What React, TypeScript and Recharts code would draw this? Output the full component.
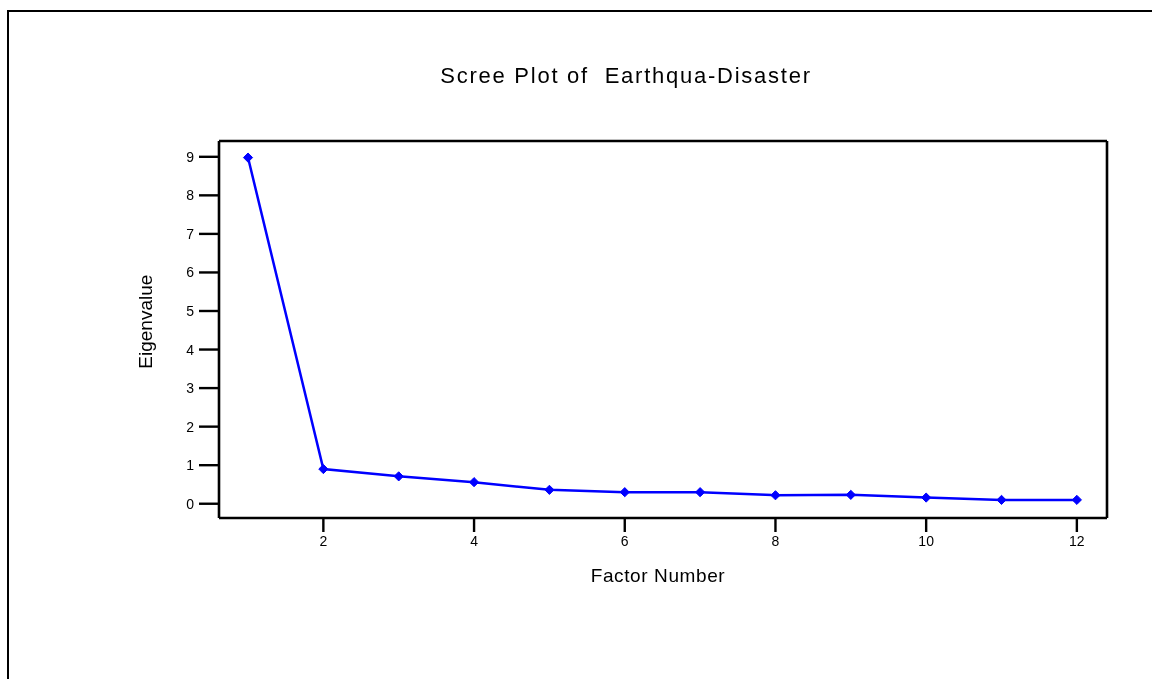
import React from "react";
import { LineChart, Line, XAxis, YAxis, ReferenceLine } from "recharts";

const factorNumbers = [1, 2, 3, 4, 5, 6, 7, 8, 9, 10, 11, 12];
const eigenvalues = [8.98, 0.9, 0.71, 0.56, 0.36, 0.3, 0.3, 0.22, 0.23, 0.16, 0.1, 0.1];
const xTicks = [2, 4, 6, 8, 10, 12];
const yTicks = [0, 1, 2, 3, 4, 5, 6, 7, 8, 9];
const xDomain = [0.615, 12.4];
const yDomain = [-0.37, 9.41];
const title = "Scree Plot of  Earthqua-Disaster";
const xLabel = "Factor Number";
const yLabel = "Eigenvalue";

const data = factorNumbers.map((f, i) => ({ factor: f, value: eigenvalues[i] }));

const FONT = "Arial, 'Liberation Sans', Helvetica, sans-serif";

const Diamond = (props: any) => {
  const { cx, cy, index } = props;
  if (cx == null || cy == null) return <g key={index} />;
  const r = 4.6;
  return (
    <polygon
      key={index}
      points={`${cx},${cy - r} ${cx + r},${cy} ${cx},${cy + r} ${cx - r},${cy}`}
      fill="#0000ff"
      stroke="#0000ff"
      strokeWidth={1}
    />
  );
};

export default function App() {
  const W = 1144;
  const H = 660;
  return (
    <div style={{ position: "relative", width: W, height: H, background: "#fff" }}>
      <div
        style={{
          position: "fixed",
          left: 7,
          top: 10,
          right: -10,
          bottom: -10,
          borderLeft: "2px solid #000",
          borderTop: "2px solid #000",
          boxSizing: "border-box",
          pointerEvents: "none",
        }}
      />
      <div style={{ position: "absolute", left: 0, top: 0 }}>
        <LineChart
          width={W}
          height={H}
          data={data}
          margin={{ top: 133, right: 45, bottom: 110, left: 151 }}
        >
          <XAxis
            dataKey="factor"
            type="number"
            domain={xDomain}
            ticks={xTicks}
            allowDataOverflow
            height={40}
            tickSize={14}
            tickMargin={4}
            axisLine={{ stroke: "#000", strokeWidth: 2.6 }}
            tickLine={{ stroke: "#000", strokeWidth: 2.4 }}
            tick={{ fill: "#000", fontSize: 14, fontFamily: FONT }}
          />
          <YAxis
            type="number"
            domain={yDomain}
            ticks={yTicks}
            allowDataOverflow
            width={60}
            tickSize={20}
            tickMargin={5}
            axisLine={{ stroke: "#000", strokeWidth: 2.6 }}
            tickLine={{ stroke: "#000", strokeWidth: 2.4 }}
            tick={{ fill: "#000", fontSize: 14, fontFamily: FONT }}
          />
          <ReferenceLine y={yDomain[1]} stroke="#000" strokeWidth={2.6} ifOverflow="visible" />
          <ReferenceLine x={xDomain[1]} stroke="#000" strokeWidth={2.6} ifOverflow="visible" />
          <Line
            type="linear"
            dataKey="value"
            stroke="#0000ff"
            strokeWidth={2.5}
            dot={Diamond}
            activeDot={false}
            isAnimationActive={false}
          />
        </LineChart>
      </div>
      <svg
        width={W}
        height={H}
        style={{ position: "absolute", left: 0, top: 0, pointerEvents: "none" }}
      >
        <text
          x={618}
          y={74.7}
          textAnchor="middle"
          fontFamily={FONT}
          fontSize={22}
          letterSpacing={1.75}
          fill="#000"
          style={{ whiteSpace: "pre" }}
        >
          {title}
        </text>
        <text
          x={650}
          y={573.7}
          textAnchor="middle"
          fontFamily={FONT}
          fontSize={19}
          letterSpacing={0.6}
          fill="#000"
        >
          {xLabel}
        </text>
        <text
          x={144.3}
          y={313.7}
          textAnchor="middle"
          fontFamily={FONT}
          fontSize={19}
          fill="#000"
          transform="rotate(-90 144.3 313.7)"
        >
          {yLabel}
        </text>
      </svg>
    </div>
  );
}
